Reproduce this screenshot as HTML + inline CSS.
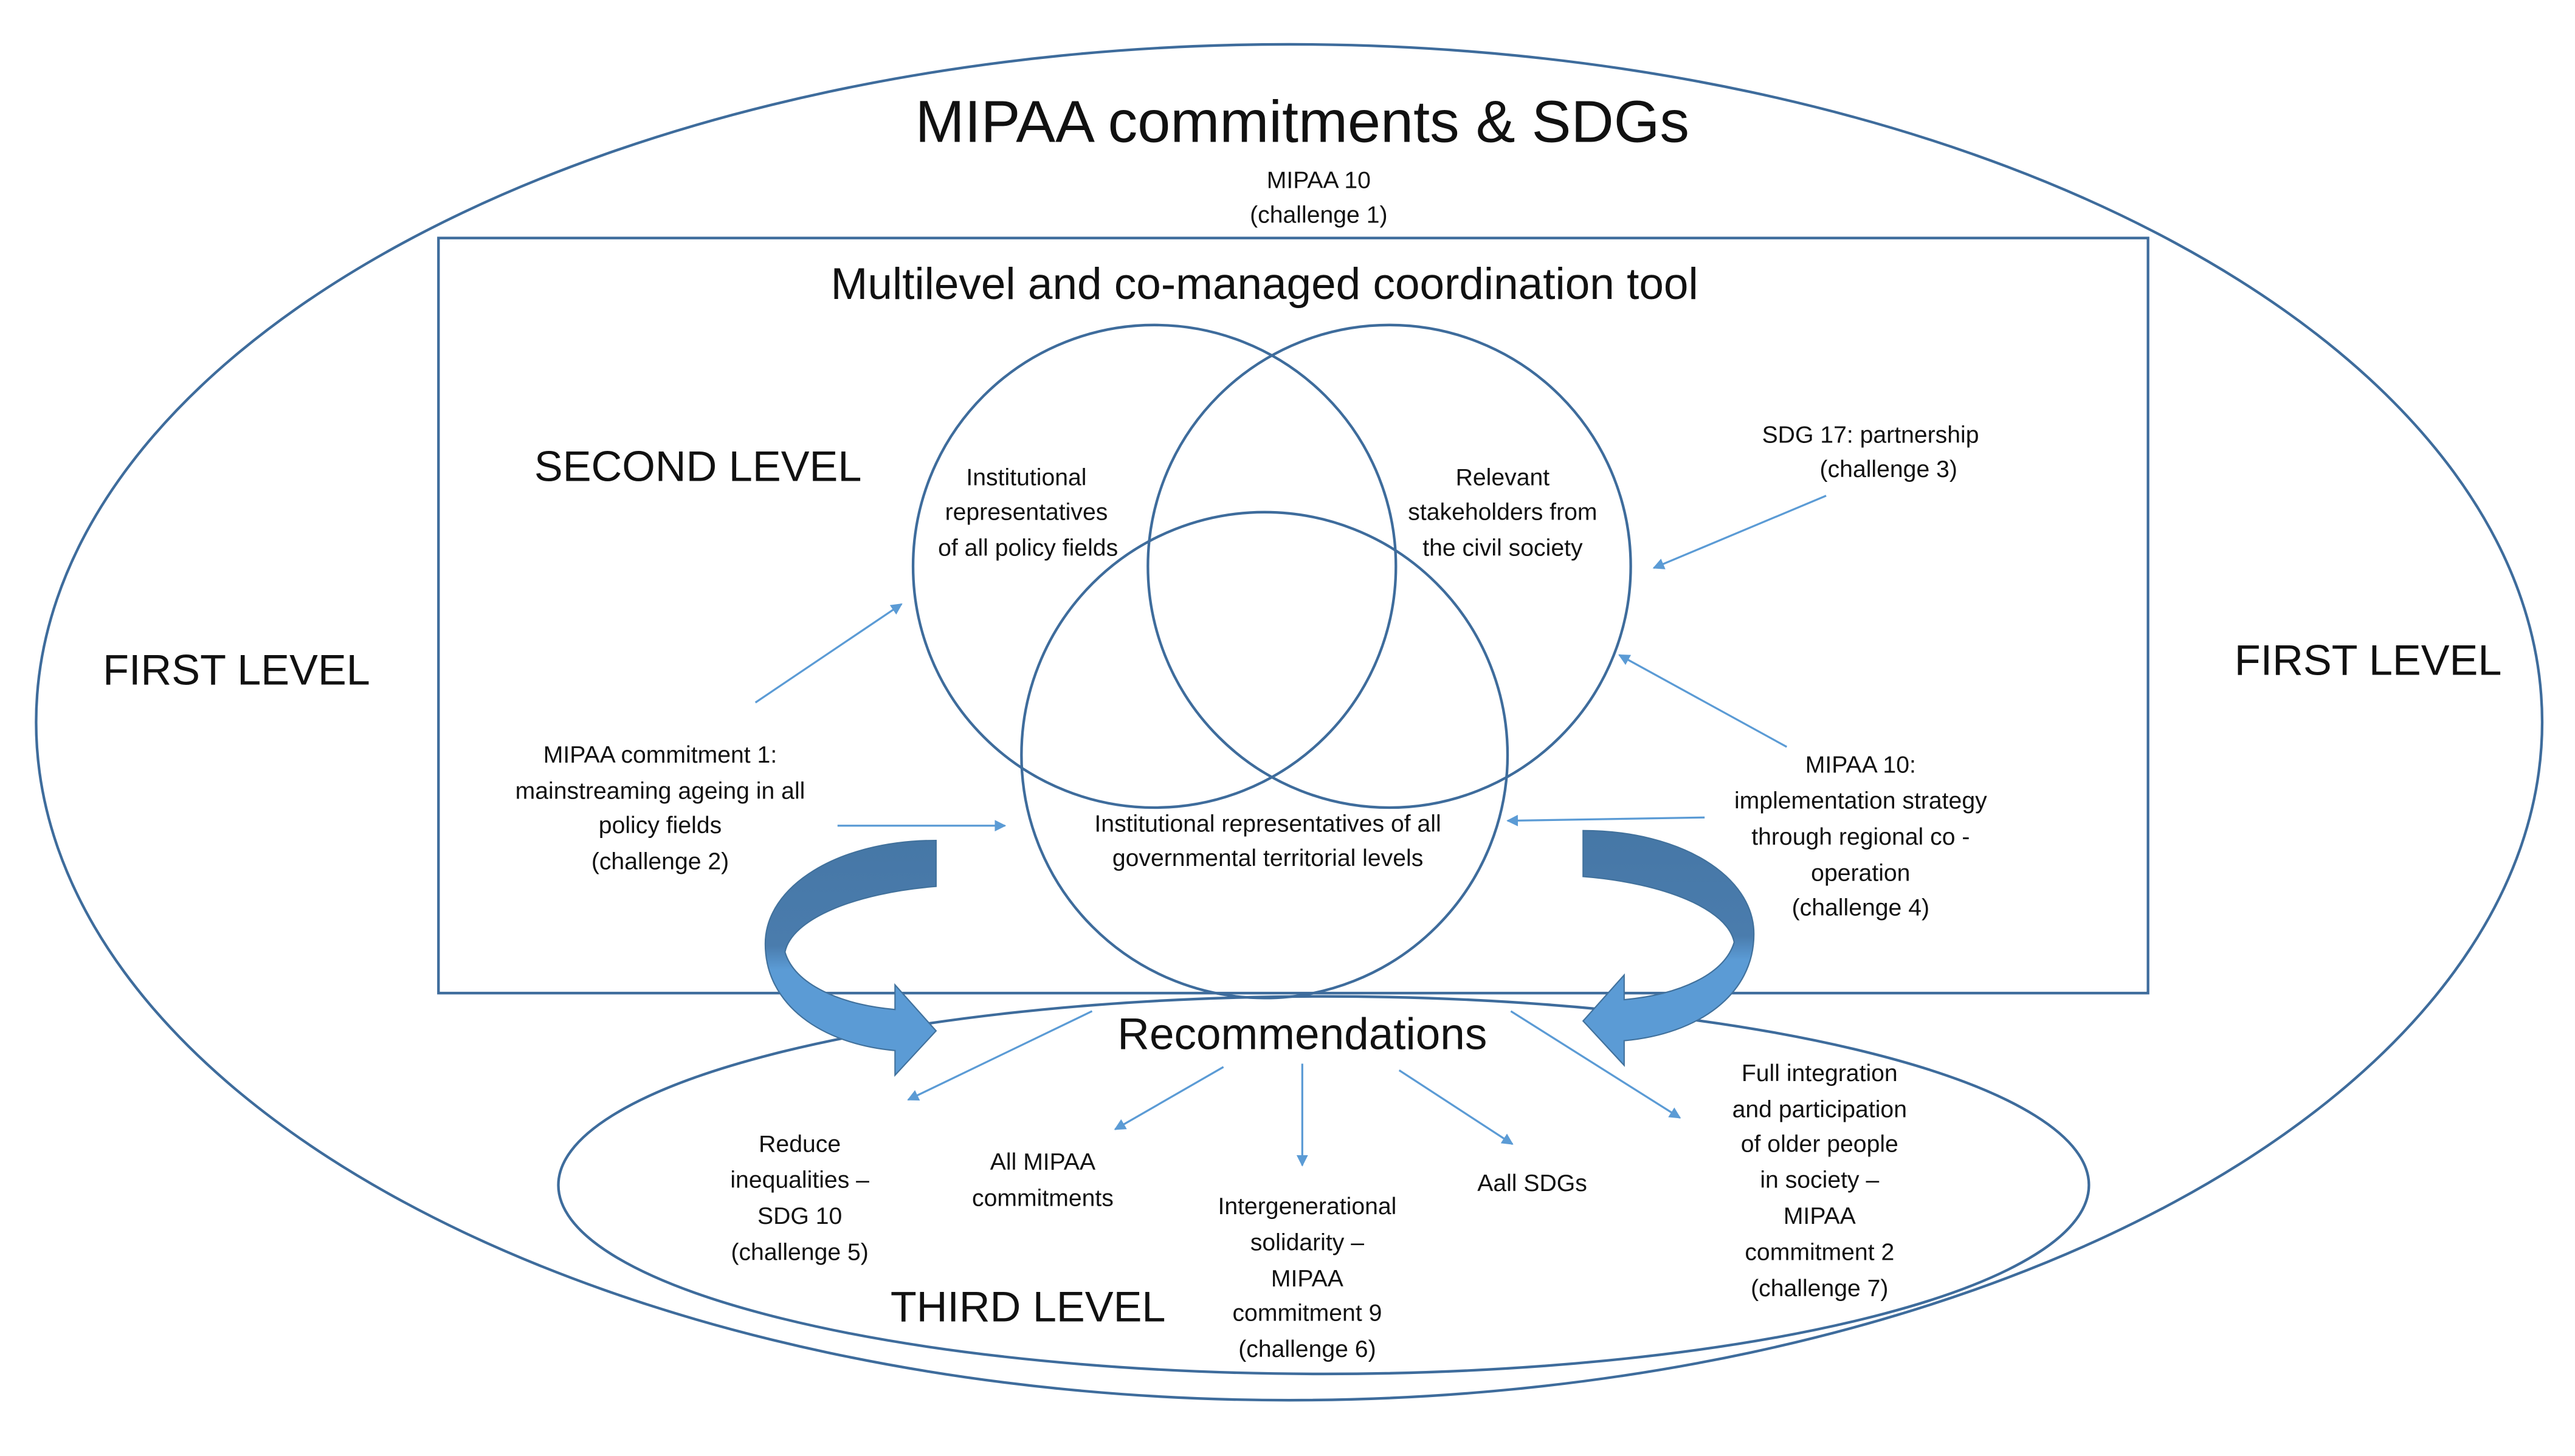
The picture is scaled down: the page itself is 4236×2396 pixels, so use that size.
<!DOCTYPE html>
<html><head><meta charset="utf-8"><style>
html,body{margin:0;padding:0;background:#fff;}
svg{display:block;}
text{font-family:"Liberation Sans",sans-serif;fill:#111;dominant-baseline:central;text-anchor:middle;}
.s{font-size:14.5px;}
.l{font-size:26px;}
</style></head><body>
<svg width="4236" height="2396" viewBox="0 0 1568 887" preserveAspectRatio="none" xmlns="http://www.w3.org/2000/svg">
<defs>
<marker id="ah" viewBox="0 0 10 10" refX="9" refY="5" markerWidth="7" markerHeight="7" orient="auto" markerUnits="userSpaceOnUse"><path d="M0,0 L10,5 L0,10 Z" fill="#5b9bd5"/></marker>
<linearGradient id="g" x1="0" y1="0" x2="0" y2="1"><stop offset="0" stop-color="#4677a6"/><stop offset="0.45" stop-color="#4a7cad"/><stop offset="0.55" stop-color="#5b9bd5"/><stop offset="1" stop-color="#5b9bd5"/></linearGradient>
</defs>
<g fill="none" stroke="#3e6c9c" stroke-width="1.6">
<ellipse cx="785" cy="440" rx="763" ry="413"/>
<rect x="267" y="145" width="1041" height="460"/>
<circle cx="703" cy="345" r="147"/>
<circle cx="846" cy="345" r="147"/>
<circle cx="770" cy="460" r="148"/>
<ellipse cx="806" cy="722" rx="466" ry="115"/>
</g>
<g stroke="#5b9bd5" stroke-width="1.2" marker-end="url(#ah)" fill="none">
<line x1="460" y1="428" x2="549" y2="368"/>
<line x1="510" y1="503" x2="612" y2="503"/>
<line x1="1112" y1="302" x2="1007" y2="346"/>
<line x1="1088" y1="455" x2="986" y2="399"/>
<line x1="1038" y1="498" x2="918" y2="500"/>
<line x1="665" y1="616" x2="553" y2="670"/>
<line x1="745" y1="650" x2="679" y2="688"/>
<line x1="793" y1="648" x2="793" y2="710"/>
<line x1="852" y1="652" x2="921" y2="697"/>
<line x1="920" y1="616" x2="1023" y2="681"/>
</g>
<path d="M570,512 L570,540 C520,544 482,560 478,580 C484,600 512,612 545,615 L545,600 L570,628 L545,655 L545,640 C500,636 466,612 466,575 C466,540 510,512 570,512 Z" fill="url(#g)" stroke="#41719c" stroke-width="0.8"/>
<g transform="translate(1534,-6) scale(-1,1)">
<path d="M570,512 L570,540 C520,544 482,560 478,580 C484,600 512,612 545,615 L545,600 L570,628 L545,655 L545,640 C500,636 466,612 466,575 C466,540 510,512 570,512 Z" fill="url(#g)" stroke="#41719c" stroke-width="0.8"/>
</g>
<text x="793" y="74" style="font-size:36px">MIPAA commitments &amp; SDGs</text>
<text class="s" x="803" y="110">MIPAA 10</text>
<text class="s" x="803" y="131">(challenge 1)</text>
<text x="770" y="173" style="font-size:27px">Multilevel and co-managed coordination tool</text>
<text class="l" x="425" y="284">SECOND LEVEL</text>
<text class="l" x="144" y="408">FIRST LEVEL</text>
<text class="l" x="1442" y="402">FIRST LEVEL</text>
<text class="l" x="626" y="796">THIRD LEVEL</text>
<text x="793" y="630" style="font-size:27px">Recommendations</text>
<g class="s">
<text class="s" x="625" y="291">Institutional</text>
<text class="s" x="625" y="312">representatives</text>
<text class="s" x="626" y="334">of all policy fields</text>
<text class="s" x="915" y="291">Relevant</text>
<text class="s" x="915" y="312">stakeholders from</text>
<text class="s" x="915" y="334">the civil society</text>
<text class="s" x="772" y="502">Institutional representatives of all</text>
<text class="s" x="772" y="523">governmental territorial levels</text>
<text class="s" x="1139" y="265">SDG 17: partnership</text>
<text class="s" x="1150" y="286">(challenge 3)</text>
<text class="s" x="402" y="460">MIPAA commitment 1:</text>
<text class="s" x="402" y="482">mainstreaming ageing in all</text>
<text class="s" x="402" y="503">policy fields</text>
<text class="s" x="402" y="525">(challenge 2)</text>
<text class="s" x="1133" y="466">MIPAA 10:</text>
<text class="s" x="1133" y="488">implementation strategy</text>
<text class="s" x="1133" y="510">through regional co -</text>
<text class="s" x="1133" y="532">operation</text>
<text class="s" x="1133" y="553">(challenge 4)</text>
<text class="s" x="487" y="697">Reduce</text>
<text class="s" x="487" y="719">inequalities –</text>
<text class="s" x="487" y="741">SDG 10</text>
<text class="s" x="487" y="763">(challenge 5)</text>
<text class="s" x="635" y="708">All MIPAA</text>
<text class="s" x="635" y="730">commitments</text>
<text class="s" x="796" y="735">Intergenerational</text>
<text class="s" x="796" y="757">solidarity –</text>
<text class="s" x="796" y="779">MIPAA</text>
<text class="s" x="796" y="800">commitment 9</text>
<text class="s" x="796" y="822">(challenge 6)</text>
<text class="s" x="933" y="721">Aall SDGs</text>
<text class="s" x="1108" y="654">Full integration</text>
<text class="s" x="1108" y="676">and participation</text>
<text class="s" x="1108" y="697">of older people</text>
<text class="s" x="1108" y="719">in society –</text>
<text class="s" x="1108" y="741">MIPAA</text>
<text class="s" x="1108" y="763">commitment 2</text>
<text class="s" x="1108" y="785">(challenge 7)</text>
</g>
</svg>
</body></html>
